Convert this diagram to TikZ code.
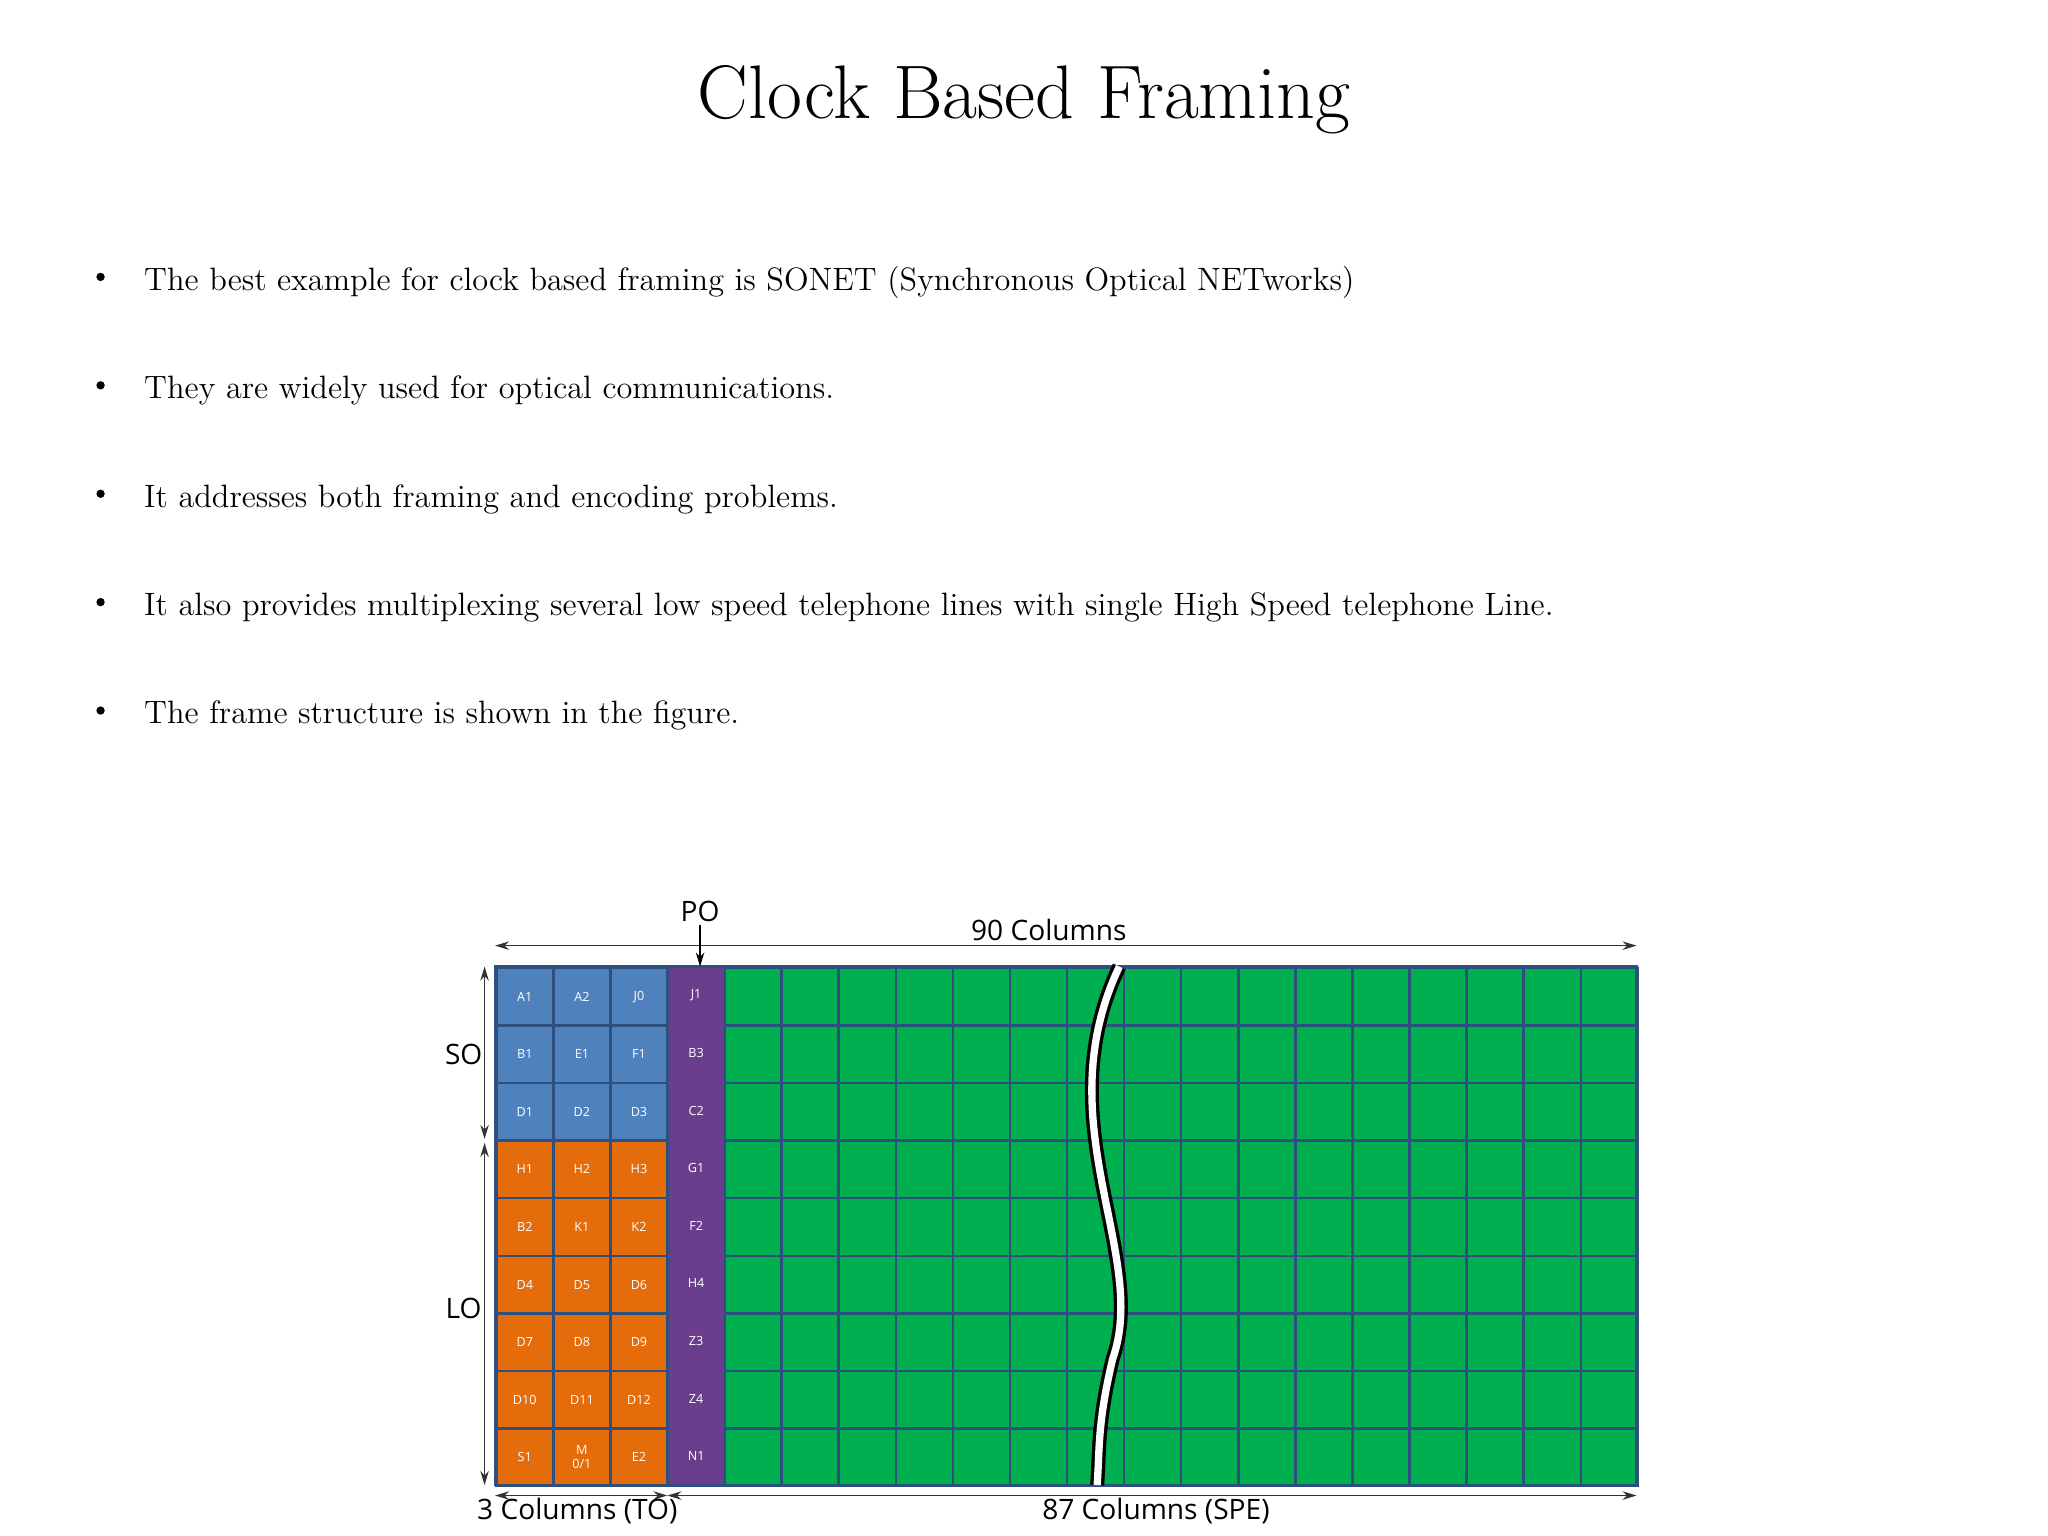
\documentclass[tikz,border=0pt]{standalone}
\usepackage{fontspec}
\setsansfont{Open Sans}
\usetikzlibrary{arrows.meta}
\definecolor{cblue}{HTML}{4F81BD}
\definecolor{corange}{HTML}{E46C0A}
\definecolor{cpurple}{HTML}{6A3E8C}
\definecolor{cgreen}{HTML}{00B050}
\definecolor{cgrid}{HTML}{2F4F7F}
\tikzset{
 cell/.style={draw=cgrid,line width=0.9pt,minimum width=43.7*0.016327cm,minimum height=44.1*0.016327cm,inner sep=0pt,anchor=north west,text=white,font=\sffamily\fontsize{4.5}{5}\selectfont,align=center},
 lbl/.style={font=\sffamily\fontsize{10}{12}\selectfont,inner sep=1pt},
 dim/.style={{Stealth[length=5pt,width=3pt]}-{Stealth[length=5pt,width=3pt]},line width=0.6pt,draw=black!80},
 bul/.style={anchor=west,font=\fontsize{11.5}{14}\selectfont,inner sep=0pt}
}
\begin{document}
\begin{tikzpicture}[x=0.016327cm,y=-0.016327cm]
\useasboundingbox (0,0) rectangle (1568,1176);
\node[font=\fontsize{27}{32}\selectfont] (title) at (784,76) {Clock Based Framing};
\foreach \t [count=\i] in {The best example for clock based framing is SONET (Synchronous Optical NETworks),They are widely used for optical communications.,It addresses both framing and encoding problems.,It also provides multiplexing several low speed telephone lines with single High Speed telephone Line.,The frame structure is shown in the figure.}{
 \node[bul] (b\i) at (110,133+83*\i) {\t};
 \fill (77,129+83*\i) circle (3.2);
}
% cells
\foreach \r [count=\j from 0] in {{A1,A2,J0,J1},{B1,E1,F1,B3},{D1,D2,D3,C2},{H1,H2,H3,G1},{B2,K1,K2,F2},{D4,D5,D6,H4},{D7,D8,D9,Z3},{D10,D11,D12,Z4},{S1,{M\\0/1},E2,N1}}{
 \foreach \c [count=\i from 0] in \r {
  \pgfmathsetmacro\cx{379+43.7*\i}
  \pgfmathsetmacro\cy{740+44.1*\j}
  \ifnum\i=3 \def\fc{cpurple}\else\ifnum\j<3 \def\fc{cblue}\else\def\fc{corange}\fi\fi
  \node[cell,fill=\fc] (c\j-\i) at (\cx,\cy) {\c};
 }
 \foreach \i in {4,...,19}{
  \pgfmathsetmacro\cx{379+43.7*\i}
  \pgfmathsetmacro\cy{740+44.1*\j}
  \node[cell,fill=cgreen] (g\j-\i) at (\cx,\cy) {};
 }
}
% purple column without horizontal lines
\fill[cpurple] (512,741) rectangle (554.5,1136);
\foreach \j [count=\k from 0] in {J1,B3,C2,G1,F2,H4,Z3,Z4,N1}
 \node[text=white,font=\sffamily\fontsize{4.5}{5}\selectfont] at (533,762+44.1*\k) {\j};
\draw[cgrid,line width=0.9pt] (379,740) rectangle (1253,1137);
% wave
\draw[black,line width=5pt] (857,740) .. controls (800,860) and (880,960) .. (852,1040) .. controls (840,1090) and (842,1110) .. (840,1137);
\draw[white,line width=2.6pt] (857,740) .. controls (800,860) and (880,960) .. (852,1040) .. controls (840,1090) and (842,1110) .. (840,1137);
% dims
\coordinate (t1) at (379,724); \coordinate (t2) at (1253,724);
\draw[dim] (t1) -- (t2);
\node[lbl] (c90) at (803,712) {90 Columns};
\node[lbl] (po) at (536,698) {PO};
\coordinate (pot) at (536,740);
\draw[-{Stealth[length=5pt,width=3pt]},line width=0.6pt] (po) -- (pot);
\coordinate (s1) at (371,740); \coordinate (s2) at (371,872);
\coordinate (l1) at (371,875); \coordinate (l2) at (371,1137);
\draw[dim] (s1) -- (s2); \draw[dim] (l1) -- (l2);
\node[lbl] (so) at (355,807) {SO};
\node[lbl] (lo) at (355,1002) {LO};
\coordinate (b1) at (379,1145); \coordinate (b2) at (511,1145); \coordinate (b3) at (1253,1145);
\draw[dim] (b1) -- (b2); \draw[dim] (b2) -- (b3);
\node[lbl] (to) at (442,1157) {3 Columns (TO)};
\node[lbl] (spe) at (885,1157) {87 Columns (SPE)};
\end{tikzpicture}
\end{document}
